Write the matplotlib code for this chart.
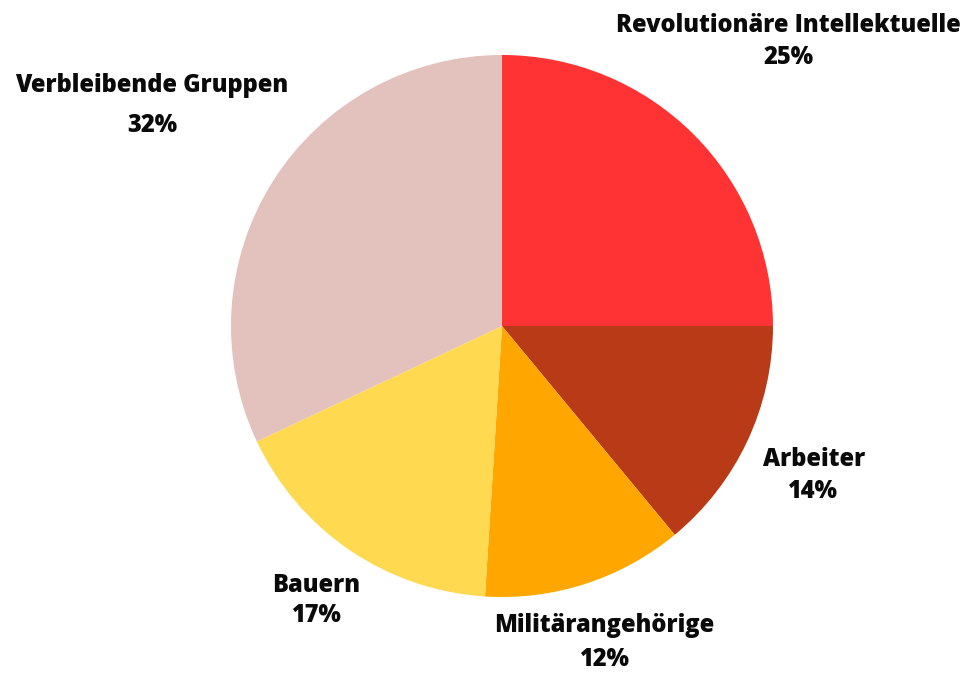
import matplotlib
matplotlib.use("Agg")
import matplotlib.pyplot as plt

# data, clockwise from 12 o'clock
labels = ["Revolutionäre Intellektuelle", "Arbeiter", "Militärangehörige",
          "Bauern", "Verbleibende Gruppen"]
shares = [25, 14, 12, 17, 32]
colors = ["#FF3333", "#B83A16", "#FFA600", "#FFD94F", "#E3C1BD"]

W, H = 963, 673
fig = plt.figure(figsize=(W / 100, H / 100), dpi=100)
ax = fig.add_axes([0, 0, 1, 1])

cx, cy, r = 502, H - 326, 271
ax.pie(shares, colors=colors, startangle=90, counterclock=False,
       center=(cx, cy), radius=r, frame=True,
       wedgeprops=dict(linewidth=0))
ax.set_xlim(0, W)
ax.set_ylim(0, H)
ax.set_aspect("equal")
ax.axis("off")

# label placement (pixel coords from top): name xy, pct xy
spots = [((788, 25), (788, 57)),
         ((814, 460), (812, 491)),
         ((604, 625), (604, 660)),
         ((316, 586), (316, 616)),
         ((152, 86), (152, 125))]

font = dict(family=["Open Sans", "DejaVu Sans"], fontweight=800,
            fontsize=17, color="#0a0a0a", ha="center", va="center")
for name, pct, (p1, p2) in zip(labels, shares, spots):
    ax.text(p1[0], H - p1[1], name, **font)
    ax.text(p2[0], H - p2[1], f"{pct}%", **font)

fig.savefig("out.png", dpi=100, facecolor="white")
